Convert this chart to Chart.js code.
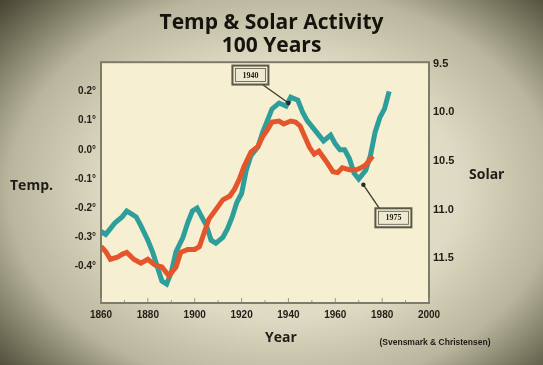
<!DOCTYPE html>
<html lang="en">
<head>
    <meta charset="UTF-8"/>
    <title>Temp & Solar Activity</title>
    <script src="https://cdn.jsdelivr.net/npm/chart.js"></script>
    <style>
        html, body {
            margin: 0;
            padding: 0;
            width: 543px;
            height: 365px;
            overflow: hidden;
        }
        body {
            background: radial-gradient(ellipse 72% 78% at 52% 52%, #e9e5cf 0%, #dedac3 45%, #b9b69d 70%, #6e6c55 88%, #3f3d2d 100%);
        }
        .chart-box {
            position: relative;
            width: 543px;
            height: 365px;
        }
    </style>
</head>
<body>
<div class="chart-box">
    <canvas id="solarChart"></canvas>
</div>

<script>
    // temperature anomaly (teal, left axis)
    const tempYears = [1860, 1862, 1864, 1866, 1869, 1871, 1873, 1875, 1877, 1880, 1882, 1884, 1886, 1888, 1890,
        1892, 1895, 1897, 1899, 1901, 1903, 1905, 1907, 1909, 1912, 1914, 1916, 1918, 1920, 1922, 1924, 1927,
        1929, 1931, 1933, 1936, 1939, 1941, 1944, 1946, 1948, 1950, 1953, 1955, 1958, 1960, 1962, 1964, 1966,
        1968, 1970, 1973, 1975, 1977, 1979, 1981, 1983];
    const tempValues = [-0.28, -0.29, -0.27, -0.25, -0.23, -0.21, -0.22, -0.23, -0.26, -0.31, -0.35, -0.40, -0.45,
        -0.46, -0.42, -0.35, -0.30, -0.25, -0.21, -0.20, -0.23, -0.26, -0.31, -0.32, -0.30, -0.27, -0.23, -0.18,
        -0.15, -0.07, -0.02, 0.01, 0.06, 0.10, 0.14, 0.16, 0.15, 0.18, 0.17, 0.13, 0.10, 0.08, 0.05, 0.03, 0.05,
        0.02, 0.00, 0.00, -0.03, -0.08, -0.10, -0.07, -0.02, 0.06, 0.11, 0.14, 0.20];

    // solar cycle length (red, right axis, inverted)
    const solarYears = [1860, 1862, 1864, 1867, 1869, 1871, 1874, 1877, 1880, 1883, 1886, 1888, 1889, 1892, 1894,
        1897, 1900, 1902, 1904, 1906, 1909, 1912, 1915, 1917, 1919, 1921, 1924, 1927, 1929, 1931, 1933, 1936,
        1938, 1941, 1943, 1945, 1947, 1949, 1951, 1953, 1956, 1959, 1961, 1963, 1966, 1969, 1971, 1973, 1976];
    const solarValues = [11.38, 11.43, 11.51, 11.49, 11.46, 11.44, 11.51, 11.55, 11.51, 11.57, 11.59, 11.65, 11.68,
        11.59, 11.44, 11.41, 11.41, 11.38, 11.24, 11.10, 11.00, 10.90, 10.86, 10.79, 10.69, 10.56, 10.41, 10.35,
        10.25, 10.18, 10.10, 10.09, 10.12, 10.09, 10.10, 10.14, 10.25, 10.36, 10.43, 10.40, 10.50, 10.61, 10.62,
        10.57, 10.59, 10.59, 10.57, 10.54, 10.45];

    const yearTicks = [1860, 1880, 1900, 1920, 1940, 1960, 1980, 2000];
    const tempTicks = [0.2, 0.1, 0.0, -0.1, -0.2, -0.3, -0.4];
    const tempTickLabels = ['0.2°', '0.1°', '0.0°', '-0.1°', '-0.2°', '-0.3°', '-0.4°'];
    const solarTicks = [9.5, 10.0, 10.5, 11.0, 11.5];
    const solarTickLabels = ['9.5', '10.0', '10.5', '11.0', '11.5'];

    // [label, year, temp value of the pointer tip, box offset x, box offset y]
    const callouts = [
        ['1940', 1940, 0.16, -38, -28],
        ['1975', 1972, -0.12, 30, 33]
    ];

    const tickFont = { family: "'Liberation Sans', Arial, sans-serif", weight: 'bold', size: 10 };
    const inkColor = '#1f1d16';

    // cream plot area + grey frame + loose texts
    const paperPlugin = {
        id: 'paper',
        beforeDraw(chart) {
            const { ctx, chartArea: a } = chart;
            ctx.save();
            ctx.fillStyle = '#f6efd2';
            ctx.fillRect(a.left, a.top, a.right - a.left, a.bottom - a.top);
            ctx.restore();
        },
        afterDraw(chart) {
            const { ctx, chartArea: a } = chart;
            const xs = chart.scales.x;
            ctx.save();
            ctx.strokeStyle = '#7d7b69';
            ctx.lineWidth = 2;
            ctx.strokeRect(a.left, a.top, a.right - a.left, a.bottom - a.top);

            // little tick marks inside the bottom border
            ctx.strokeStyle = '#9a9784';
            ctx.lineWidth = 1;
            for (let yr = 1860; yr <= 2000; yr += 10) {
                const px = xs.getPixelForValue(yr);
                ctx.beginPath();
                ctx.moveTo(px, a.bottom - 1);
                ctx.lineTo(px, a.bottom - (yr % 20 === 0 ? 5 : 3));
                ctx.stroke();
            }

            ctx.fillStyle = inkColor;
            ctx.textBaseline = 'middle';
            ctx.font = "bold 14px 'Open Sans', sans-serif";
            ctx.textAlign = 'left';
            ctx.fillText('Temp.', 10, 186);
            ctx.fillText('Solar', 469, 175);
            ctx.textAlign = 'center';
            ctx.fillText('Year', 281, 338);
            ctx.font = "bold 8.5px 'Liberation Sans', sans-serif";
            ctx.fillText('(Svensmark & Christensen)', 435, 343);
            ctx.restore();
        }
    };

    const calloutPlugin = {
        id: 'callouts',
        afterDatasetsDraw(chart) {
            const { ctx } = chart;
            const xs = chart.scales.x, ys = chart.scales.yT;
            ctx.save();
            callouts.forEach(([label, yr, val, dx, dy]) => {
                const px = xs.getPixelForValue(yr);
                const py = ys.getPixelForValue(val);
                const bx = px + dx, by = py + dy;
                const w = 36, h = 19;
                ctx.strokeStyle = '#3b392f';
                ctx.lineWidth = 1.3;
                ctx.beginPath();
                ctx.moveTo(px, py);
                ctx.lineTo(bx + (dx < 0 ? w / 2 - 6 : -w / 2 + 4), by + (dy < 0 ? h / 2 : -h / 2));
                ctx.stroke();
                ctx.fillStyle = '#2a281f';
                ctx.beginPath();
                ctx.arc(px, py, 2.2, 0, Math.PI * 2);
                ctx.fill();
                ctx.fillStyle = '#efe9d2';
                ctx.fillRect(bx - w / 2, by - h / 2, w, h);
                ctx.lineWidth = 2;
                ctx.strokeStyle = '#5a5848';
                ctx.strokeRect(bx - w / 2, by - h / 2, w, h);
                ctx.lineWidth = 0.8;
                ctx.strokeRect(bx - w / 2 + 3, by - h / 2 + 3, w - 6, h - 6);
                ctx.fillStyle = inkColor;
                ctx.font = "bold 8px 'Liberation Serif', serif";
                ctx.textAlign = 'center';
                ctx.textBaseline = 'middle';
                ctx.fillText(label, bx, by + 0.5);
            });
            ctx.restore();
        }
    };

    const ctxSolar = document.getElementById('solarChart').getContext('2d');

    const solarChart = new Chart(ctxSolar, {
        type: 'line',
        data: {
            datasets: [
                {
                    label: 'Solar',
                    data: solarYears.map((yr, i) => ({ x: yr, y: solarValues[i] })),
                    yAxisID: 'yS',
                    borderColor: '#e4552c',
                    borderWidth: 5,
                    pointRadius: 0,
                    tension: 0,
                    order: 0
                },
                {
                    label: 'Temp',
                    data: tempYears.map((yr, i) => ({ x: yr, y: tempValues[i] })),
                    yAxisID: 'yT',
                    borderColor: '#2d9e9a',
                    borderWidth: 5,
                    pointRadius: 0,
                    tension: 0,
                    order: 1
                }
            ]
        },
        options: {
            responsive: true,
            maintainAspectRatio: false,
            animation: false,
            layout: { padding: 0 },
            scales: {
                x: {
                    type: 'linear',
                    min: 1860,
                    max: 2000,
                    afterFit: s => { s.height = 62; },
                    afterBuildTicks: s => { s.ticks = yearTicks.map(v => ({ value: v })); },
                    grid: { display: false, drawTicks: false },
                    border: { display: false },
                    ticks: {
                        color: inkColor,
                        font: tickFont,
                        padding: 6,
                        maxRotation: 0,
                        callback: v => String(v)
                    }
                },
                yT: {
                    type: 'linear',
                    position: 'left',
                    min: -0.525,
                    max: 0.3,
                    afterFit: s => { s.width = 101; },
                    afterBuildTicks: s => { s.ticks = tempTicks.map(v => ({ value: v })); },
                    grid: { display: false, drawTicks: false },
                    border: { display: false },
                    ticks: {
                        color: inkColor,
                        font: tickFont,
                        padding: 5,
                        callback: (v, i) => tempTickLabels[i]
                    }
                },
                yS: {
                    type: 'linear',
                    position: 'right',
                    reverse: true,
                    min: 9.485,
                    max: 11.96,
                    afterFit: s => { s.width = 114; },
                    afterBuildTicks: s => { s.ticks = solarTicks.map(v => ({ value: v })); },
                    grid: { display: false, drawTicks: false },
                    border: { display: false },
                    ticks: {
                        color: inkColor,
                        font: { family: tickFont.family, weight: 'bold', size: 11 },
                        padding: 4,
                        callback: (v, i) => solarTickLabels[i]
                    }
                }
            },
            plugins: {
                legend: { display: false },
                tooltip: { enabled: false },
                title: {
                    display: true,
                    text: ['Temp & Solar Activity', '100 Years'],
                    color: '#15130d',
                    font: { family: "'Open Sans', sans-serif", weight: 'bold', size: 21, lineHeight: 1.1 },
                    padding: { top: 11, bottom: 5 }
                }
            }
        },
        plugins: [paperPlugin, calloutPlugin]
    });
</script>
</body>
</html>
